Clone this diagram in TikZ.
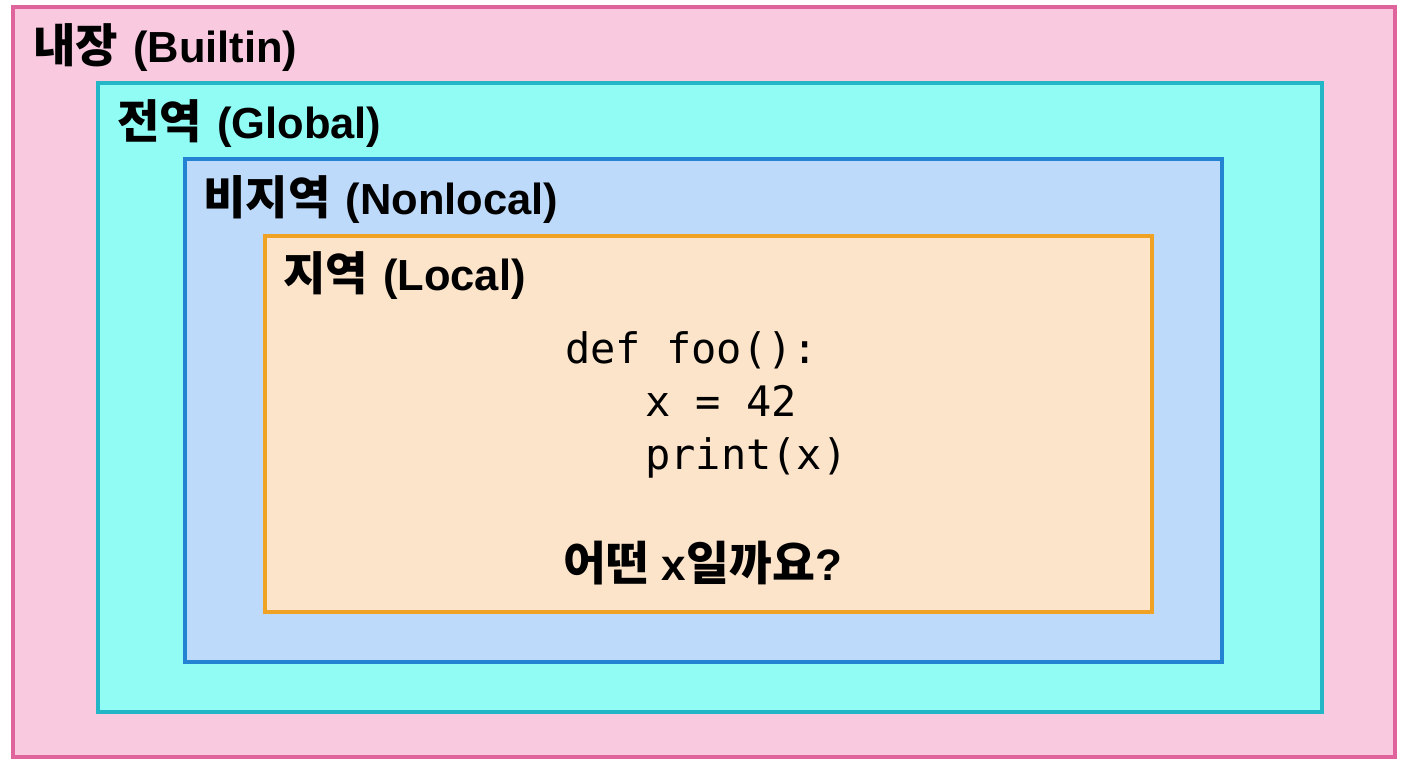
\documentclass[tikz,border=0pt]{standalone}
\usepackage{fontspec}
\setmainfont{Liberation Sans}
\setmonofont{DejaVu Sans Mono}
\newfontfamily\kr{Noto Sans CJK KR}[Scale=1.06]
\definecolor{pinkfill}{HTML}{F9C9E0}
\definecolor{pinkline}{HTML}{E0649C}
\definecolor{cyanfill}{HTML}{90FCF4}
\definecolor{cyanline}{HTML}{22B6C6}
\definecolor{bluefill}{HTML}{BEDAFA}
\definecolor{blueline}{HTML}{2482D2}
\definecolor{orangefill}{HTML}{FCE4CA}
\definecolor{orangeline}{HTML}{F0A224}
\tikzset{
  scopebox/.style={line width=4pt},
  lbl/.style={anchor=base west, inner sep=0pt, font=\fontsize{43.5}{50}\selectfont\bfseries},
  codeline/.style={anchor=base west, inner sep=0pt, font=\fontsize{42}{50}\selectfont\ttfamily},
  question/.style={anchor=base, inner sep=0pt, font=\fontsize{44}{52}\selectfont\bfseries}
}
\begin{document}
\begin{tikzpicture}[x=1pt,y=-1pt]
\useasboundingbox[fill=white] (0,0) rectangle (1408,768);
\draw[scopebox, fill=pinkfill, draw=pinkline] (13,7) rectangle (1395,757);
\draw[scopebox, fill=cyanfill, draw=cyanline] (98,83) rectangle (1322,712);
\draw[scopebox, fill=bluefill, draw=blueline] (185,159) rectangle (1222,662);
\draw[scopebox, fill=orangefill, draw=orangeline] (265,236) rectangle (1152,612);
\node[lbl] (lbuiltin) at (33,63) {{\kr\bfseries 내장}\hspace{3pt} (Builtin)};
\node[lbl] (lglobal) at (117,138) {{\kr\bfseries 전역}\hspace{3pt} (Global)};
\node[lbl] (lnonlocal) at (203,214) {{\kr\bfseries 비지역}\hspace{3pt} (Nonlocal)};
\node[lbl] (llocal) at (283,290) {{\kr\bfseries 지역}\hspace{3pt} (Local)};
\node[codeline] (c1) at (565,363) {def foo():};
\node[codeline] (c2) at (645,416) {x = 42};
\node[codeline] (c3) at (645,469) {print(x)};
\node[question] (q) at (703,580) {{\kr\bfseries 어떤} x{\kr\bfseries 일까요}?};
\end{tikzpicture}
\end{document}
